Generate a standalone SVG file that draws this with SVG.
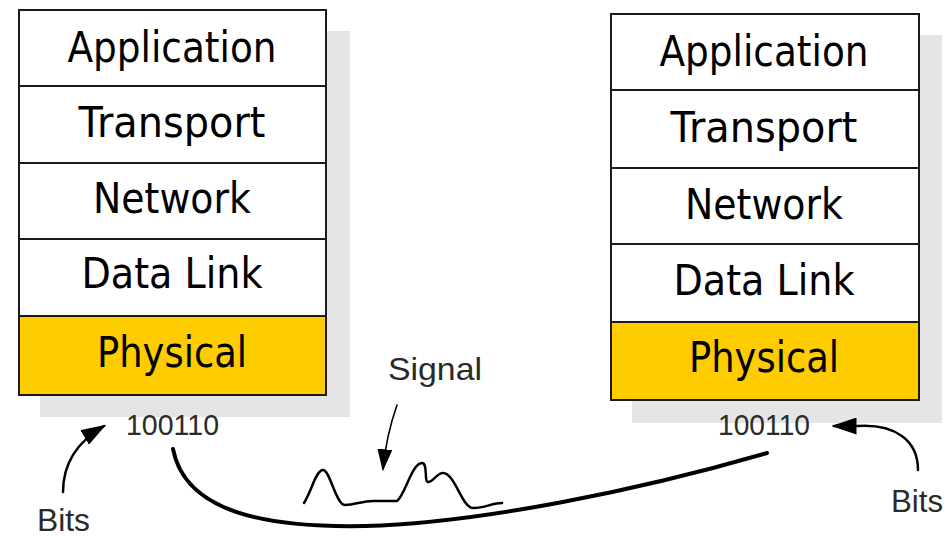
<svg xmlns="http://www.w3.org/2000/svg" width="947" height="537" viewBox="0 0 947 537">
<defs>
<style>
.shadow{fill:#e5e5e5;stroke:none}
.layer{fill:#ffffff;stroke:#1a1a1a;stroke-width:2}
.phys{fill:#ffcc00;stroke:#1a1a1a;stroke-width:2}
.lt{font-family:"DejaVu Sans",Verdana,sans-serif;font-size:43px;fill:#000;text-anchor:middle}
.lbl{font-family:"Liberation Sans",Arial,sans-serif;fill:#2a2a2a}
.conn{fill:none;stroke:#000;stroke-linecap:round}
</style>
<marker id="ahB" viewBox="0 0 10 10" refX="9" refY="5" markerWidth="25" markerHeight="17" markerUnits="userSpaceOnUse" orient="auto" preserveAspectRatio="none">
<path d="M0,0 L10,5 L0,10 z" fill="#000"/>
</marker>
<marker id="ahS" viewBox="0 0 10 10" refX="9" refY="5" markerWidth="22" markerHeight="15" markerUnits="userSpaceOnUse" orient="auto" preserveAspectRatio="none">
<path d="M0,0 L10,5 L0,10 z" fill="#000"/>
</marker>
</defs>
<rect width="947" height="537" fill="#ffffff"/>

<g id="stack-left">
<rect class="shadow" x="40" y="31" width="310" height="386"/>
<g id="left-application"><rect class="layer" x="19" y="10" width="307" height="76"/><text class="lt" x="172" y="62" textLength="209" lengthAdjust="spacingAndGlyphs">Application</text></g>
<g id="left-transport"><rect class="layer" x="19" y="86" width="307" height="77"/><text class="lt" x="172" y="137" textLength="187" lengthAdjust="spacingAndGlyphs">Transport</text></g>
<g id="left-network"><rect class="layer" x="19" y="163" width="307" height="76"/><text class="lt" x="172" y="213" textLength="158" lengthAdjust="spacingAndGlyphs">Network</text></g>
<g id="left-datalink"><rect class="layer" x="19" y="239" width="307" height="77"/><text class="lt" x="172" y="288" textLength="181" lengthAdjust="spacingAndGlyphs">Data Link</text></g>
<g id="left-physical"><rect class="phys" x="19" y="316" width="307" height="79"/><text class="lt" x="172" y="367" textLength="150" lengthAdjust="spacingAndGlyphs">Physical</text></g>
</g>

<g id="stack-right">
<rect class="shadow" x="632" y="35" width="310" height="388"/>
<g id="right-application"><rect class="layer" x="611" y="14" width="308" height="76"/><text class="lt" x="764" y="66" textLength="209" lengthAdjust="spacingAndGlyphs">Application</text></g>
<g id="right-transport"><rect class="layer" x="611" y="90" width="308" height="78"/><text class="lt" x="764" y="142" textLength="187" lengthAdjust="spacingAndGlyphs">Transport</text></g>
<g id="right-network"><rect class="layer" x="611" y="168" width="308" height="76"/><text class="lt" x="764" y="219" textLength="158" lengthAdjust="spacingAndGlyphs">Network</text></g>
<g id="right-datalink"><rect class="layer" x="611" y="244" width="308" height="78"/><text class="lt" x="764" y="295" textLength="181" lengthAdjust="spacingAndGlyphs">Data Link</text></g>
<g id="right-physical"><rect class="phys" x="611" y="322" width="308" height="78"/><text class="lt" x="764" y="372" textLength="150" lengthAdjust="spacingAndGlyphs">Physical</text></g>
</g>

<g id="labels">
<text id="bits-left-value" class="lbl" x="126" y="435" font-size="30" textLength="93" lengthAdjust="spacingAndGlyphs">100110</text>
<text id="bits-right-value" class="lbl" x="718" y="435" font-size="30" textLength="92" lengthAdjust="spacingAndGlyphs">100110</text>
<text id="bits-left" class="lbl" x="37" y="531" font-size="31" textLength="53" lengthAdjust="spacingAndGlyphs">Bits</text>
<text id="bits-right" class="lbl" x="891" y="512" font-size="31" textLength="52" lengthAdjust="spacingAndGlyphs">Bits</text>
<text id="signal" class="lbl" x="388" y="380" font-size="32" textLength="94" lengthAdjust="spacingAndGlyphs">Signal</text>
</g>

<g id="connectors">
<path class="conn" stroke-width="4" d="M173,449 C185,512 265,528 365,526 C480,523 640,490 767,453"/>
<path class="conn" stroke-width="2.5" d="M63,492 C63,466 75,443 104,426" marker-end="url(#ahB)"/>
<path class="conn" stroke-width="2.5" d="M918,470 C918,440 895,424 858,426 L834,426" marker-end="url(#ahB)"/>
<path class="conn" stroke-width="1.6" d="M397,405 C390,425 385,448 383,469" marker-end="url(#ahS)"/>
<path id="waveform" class="conn" stroke-width="2.5" stroke-linejoin="round" d="M304,503 C312,490 316,470 323,470 C330,470 336,505 345,505 C355,505 362,501 373,501 L397,501 C405,495 412,463 422,463 C428,463 424,482 428,482 C433,482 437,473 443,473 C455,473 462,508 473,508 C485,508 492,503 502,503"/>
</g>
</svg>
